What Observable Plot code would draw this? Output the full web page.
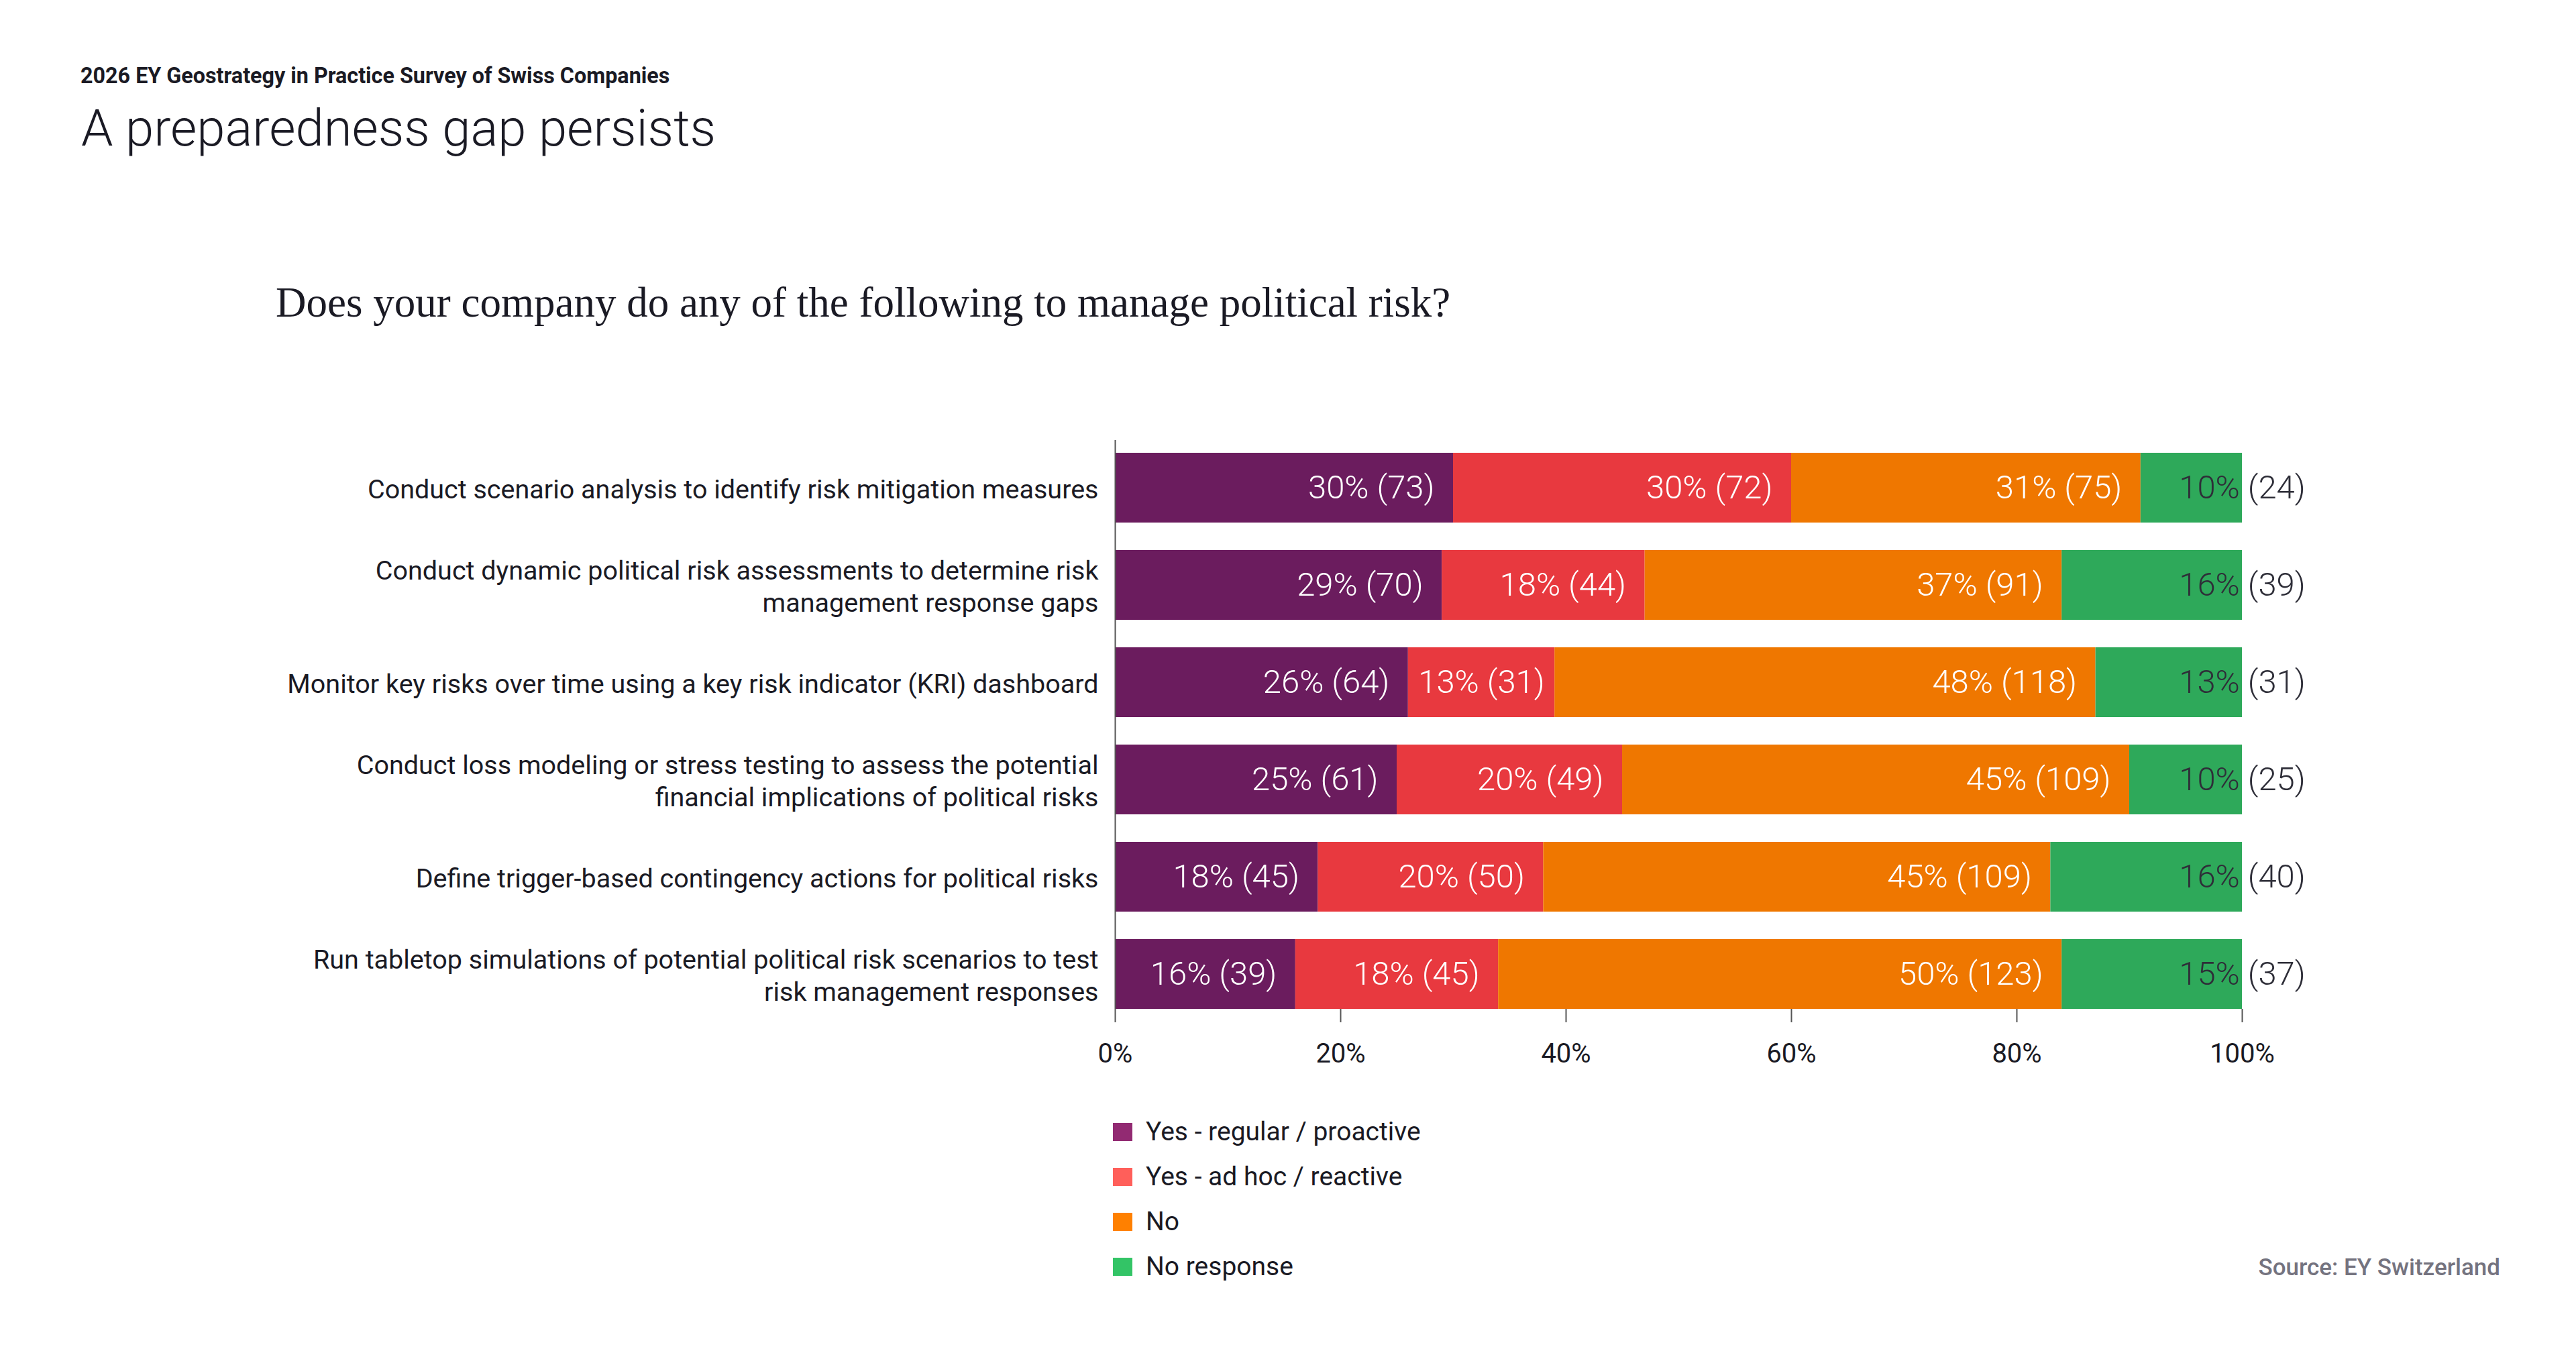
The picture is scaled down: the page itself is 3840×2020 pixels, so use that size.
<!DOCTYPE html>
<html>
<head>
<meta charset="utf-8">
<script src="https://cdn.jsdelivr.net/npm/d3@7"></script>
<script src="https://cdn.jsdelivr.net/npm/@observablehq/plot@0.6"></script>
<style>
  html, body { margin: 0; padding: 0; background: #fff; }
  body { width: 3840px; height: 2020px; position: relative; overflow: hidden; font-family: Roboto, "Noto Sans", sans-serif; color: #1a1a24; }
  .abs { position: absolute; line-height: 1; white-space: nowrap; }
  #kicker { left: 120px; top: 97px; font-size: 32.3px; font-weight: 700; }
  #title { left: 121px; top: 153px; font-size: 76px; font-weight: 300; }
  #question { left: 411px; top: 420px; font-size: 63px; font-family: "Liberation Serif", "DejaVu Serif", serif; }
  #chart { position: absolute; left: 0; top: 600px; }
  #legend { position: absolute; left: 1659px; top: 1674px; }
  .lg-row { display: flex; align-items: center; height: 27px; margin-bottom: 40px; }
  .lg-sw { width: 29px; height: 27px; margin-right: 20px; }
  .lg-tx { font-size: 39px; line-height: 1; }
  #source { right: 113px; top: 1872px; font-size: 35px; color: #74737f; font-weight: 500; }
</style>
</head>
<body>
<div id="kicker" class="abs"></div>
<div id="title" class="abs"></div>
<div id="question" class="abs"></div>
<div id="chart"></div>
<div id="legend"></div>
<div id="source" class="abs"></div>
<script>
const kicker = "2026 EY Geostrategy in Practice Survey of Swiss Companies";
const title = "A preparedness gap persists";
const question = "Does your company do any of the following to manage political risk?";
const source = "Source: EY Switzerland";

const categories = [
  "Conduct scenario analysis to identify risk mitigation measures",
  "Conduct dynamic political risk assessments to determine risk\nmanagement response gaps",
  "Monitor key risks over time using a key risk indicator (KRI) dashboard",
  "Conduct loss modeling or stress testing to assess the potential\nfinancial implications of political risks",
  "Define trigger-based contingency actions for political risks",
  "Run tabletop simulations of potential political risk scenarios to test\nrisk management responses"
];
const series = ["Yes - regular / proactive", "Yes - ad hoc / reactive", "No", "No response"];
const barColors = ["#6b1c5e", "#e8393f", "#ef7700", "#2ea95a"];
const legendColors = ["#922a72", "#ff5f5a", "#ff8000", "#33c466"];

const pctRegular = [30, 29, 26, 25, 18, 16];
const nRegular   = [73, 70, 64, 61, 45, 39];
const pctAdhoc   = [30, 18, 13, 20, 20, 18];
const nAdhoc     = [72, 44, 31, 49, 50, 45];
const pctNo      = [31, 37, 48, 45, 45, 50];
const nNo        = [75, 91, 118, 109, 109, 123];
const pctNoResp  = [10, 16, 13, 10, 16, 15];
const nNoResp    = [24, 39, 31, 25, 40, 37];

const xTicks = [0, 20, 40, 60, 80, 100];

document.getElementById("kicker").textContent = kicker;
document.getElementById("title").textContent = title;
document.getElementById("question").textContent = question;
document.getElementById("source").textContent = source;

const pcts = [pctRegular, pctAdhoc, pctNo, pctNoResp];
const ns = [nRegular, nAdhoc, nNo, nNoResp];

const W = 3840, H = 1000, ML = 1662, MR = 498, MT = 56, MB = 96;
const pxPerUnit = (W - ML - MR) / 100;
const labelFont = "300 49px Roboto";
const canvas = document.createElement("canvas");
const ctx = canvas.getContext("2d");
ctx.font = labelFont;
const pad = 28;

const rows = [];
categories.forEach((c, i) => {
  let acc = 0;
  series.forEach((s, j) => {
    const p = pcts[j][i];
    const x1 = acc;
    const x2 = j === series.length - 1 ? 100 : acc + p; // last segment fills the bar
    acc += p;
    const text = `${p}% (${ns[j][i]})`;
    const w = ctx.measureText(text).width;
    const segPx = (x2 - x1) * pxPerUnit;
    let mode;
    if (j === series.length - 1) mode = "last";
    else if (w + 2 * pad <= segPx) mode = "end";
    else mode = "mid";
    rows.push({category: c, series: s, x1, x2, xm: (x1 + x2) / 2, text, mode});
  });
});

const chart = Plot.plot({
  width: W,
  height: H,
  marginLeft: ML,
  marginRight: MR,
  marginTop: MT,
  marginBottom: MB,
  style: {fontFamily: "Roboto, 'Noto Sans', sans-serif", color: "#1a1a24", background: "transparent"},
  x: {domain: [0, 100], ticks: xTicks, tickFormat: d => d + "%"},
  y: {type: "band", domain: categories, paddingInner: 0.283, paddingOuter: 0.0655, align: 1, axis: null},
  color: {domain: series, range: barColors},
  marks: [
    Plot.barX(rows, {x1: "x1", x2: "x2", y: "category", fill: "series"}),
    Plot.ruleX([0], {stroke: "#555", strokeWidth: 2}),
    Plot.axisX({ticks: xTicks, tickFormat: d => d + "%", tickSize: 20, tickPadding: 31, fontSize: 40, stroke: "#555", strokeWidth: 2, strokeOpacity: 1, fill: "#1a1a24", label: null}),
    Plot.text(categories, {x: 0, y: d => d, text: d => d, textAnchor: "end", dx: -25, fontSize: 39.5, lineHeight: 1.22, fill: "#1a1a24"}),
    Plot.text(rows.filter(d => d.mode === "end"), {x: "x2", y: "category", text: "text", textAnchor: "end", dx: -pad, fontSize: 49, fontWeight: 300, fill: "white"}),
    Plot.text(rows.filter(d => d.mode === "mid"), {x: "xm", y: "category", text: "text", textAnchor: "middle", fontSize: 49, fontWeight: 300, fill: "white"}),
    Plot.text(rows.filter(d => d.mode === "last"), {x: "x2", y: "category", text: "text", textAnchor: "middle", fontSize: 49, fontWeight: 300, fill: "#2e2e38"})
  ]
});
document.getElementById("chart").appendChild(chart);

const legend = document.getElementById("legend");
series.forEach((s, j) => {
  const row = document.createElement("div");
  row.className = "lg-row";
  const sw = document.createElement("div");
  sw.className = "lg-sw";
  sw.style.background = legendColors[j];
  const tx = document.createElement("div");
  tx.className = "lg-tx";
  tx.textContent = s;
  row.appendChild(sw);
  row.appendChild(tx);
  legend.appendChild(row);
});
</script>
</body>
</html>
